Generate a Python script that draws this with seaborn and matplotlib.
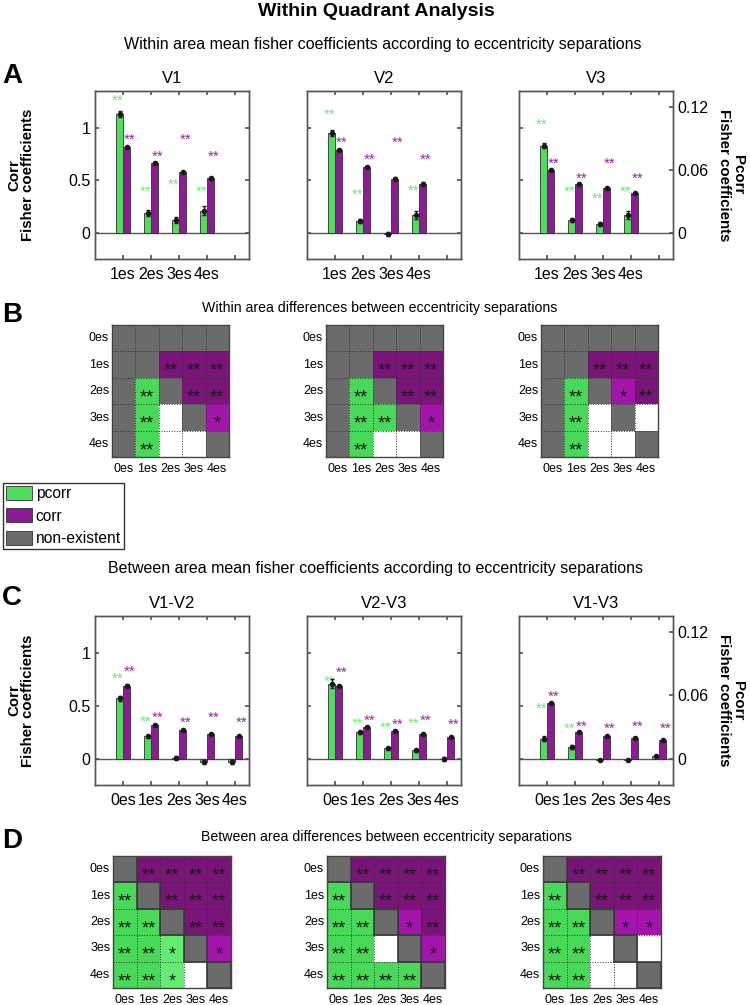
import numpy as np
import pandas as pd
import matplotlib
matplotlib.use('Agg')
import matplotlib.pyplot as plt
from matplotlib.colors import ListedColormap
from matplotlib.patches import Patch, Rectangle
from matplotlib.transforms import ScaledTranslation
import seaborn as sns

sns.set_theme(style='white')
plt.rcParams['font.family'] = ['Liberation Sans', 'DejaVu Sans']
plt.rcParams.update({'text.color': 'black', 'axes.labelcolor': 'black',
                     'xtick.labelcolor': 'black', 'ytick.labelcolor': 'black'})

# ---------------- data ----------------
SEP_A = ['1es', '2es', '3es', '4es']
SEP_C = ['0es', '1es', '2es', '3es', '4es']
AREAS_A = ['V1', 'V2', 'V3']
AREAS_C = ['V1-V2', 'V2-V3', 'V1-V3']

# within area: corr on left axis, pcorr on right axis
CORR_A = [[0.82, 0.66, 0.58, 0.52],
          [0.79, 0.625, 0.515, 0.465],
          [0.595, 0.46, 0.425, 0.38]]
CORR_A_ERR = [[0.01, 0.01, 0.012, 0.015],
              [0.01, 0.012, 0.012, 0.02],
              [0.008, 0.01, 0.01, 0.012]]
PCORR_A = [[0.113, 0.019, 0.012, 0.021],
           [0.095, 0.011, -0.0015, 0.017],
           [0.083, 0.012, 0.008, 0.017]]
PCORR_A_ERR = [[0.003, 0.003, 0.003, 0.0045],
               [0.003, 0.002, 0.002, 0.004],
               [0.002, 0.002, 0.002, 0.004]]
SIG_CORR_A = [['**', '**', '**', '**'], ['**', '**', '**', '**'], ['**', '**', '**', '**']]
SIG_PCORR_A = [['**', '**', '**', '**'], ['**', '**', '', '**'], ['**', '**', '**', '**']]

# between area
CORR_C = [[0.69, 0.32, 0.275, 0.237, 0.212],
          [0.687, 0.30, 0.262, 0.234, 0.203],
          [0.528, 0.25, 0.216, 0.194, 0.178]]
CORR_C_ERR = [[0.012, 0.01, 0.008, 0.008, 0.008],
              [0.01, 0.008, 0.008, 0.008, 0.008],
              [0.01, 0.008, 0.008, 0.008, 0.008]]
PCORR_C = [[0.057, 0.021, 0.0005, -0.003, -0.003],
           [0.071, 0.025, 0.0097, 0.008, -0.0005],
           [0.019, 0.011, -0.001, -0.001, 0.002]]
PCORR_C_ERR = [[0.002, 0.0015, 0.0015, 0.002, 0.002],
               [0.004, 0.0015, 0.0015, 0.0015, 0.002],
               [0.0025, 0.0015, 0.001, 0.001, 0.0015]]
SIG_CORR_C = [['**'] * 5, ['**'] * 5, ['**'] * 5]
SIG_PCORR_C = [['**', '**', '', '', ''], ['**', '**', '**', '**', ''], ['**', '**', '', '', '']]

# significance matrices: G/P = ** (pcorr/corr), g/p = *, N = non-existent, W = n.s.
MAT_B = [["NNNNN", "NNPPP", "NGNPP", "NGWNp", "NGWWN"],
         ["NNNNN", "NNPPP", "NGNPP", "NGGNp", "NGWWN"],
         ["NNNNN", "NNPPP", "NGNpP", "NGWNW", "NGWWN"]]
MAT_D = [["NPPPP", "GNPPP", "GGNPP", "GGgNp", "GGgWN"],
         ["NPPPP", "GNPPP", "GGNpP", "GGWNp", "GGGGN"],
         ["NPPPP", "GNPPP", "GGNpp", "GGWNW", "GGWWN"]]

# star label heights (left axis units)
STAR_CORR_A = [[0.93, 0.77, 0.93, 0.77], [0.905, 0.74, 0.905, 0.74], [0.706, 0.564, 0.706, 0.564]]
STAR_PCORR_A = [[1.30, 0.44, 0.50, 0.44], [1.17, 0.41, None, 0.45], [1.08, 0.44, 0.37, 0.44]]
STAR_CORR_C = [[0.87, 0.43, 0.385, 0.43, 0.385], [0.86, 0.41, 0.366, 0.41, 0.366],
               [0.63, 0.353, 0.325, 0.353, 0.325]]
STAR_PCORR_C = [[0.80, 0.40, None, None, None], [0.77, 0.38, 0.335, 0.38, None],
                [0.52, 0.325, None, None, None]]

# ---------------- style ----------------
GREEN = '#4FDD5C'
PURPLE = '#8E1A96'
GRAY = '#6B6B6B'
PAL = {'pcorr': GREEN, 'corr': PURPLE}
STAR_GREEN = '#6FE97B'
STAR_PURPLE = '#9E22A8'
HEAT_COLORS = ['#FFFFFF', GRAY, '#62EC70', '#47D957', '#A214AA', '#7B1479']
CODE = {'W': 0, 'N': 1, 'g': 2, 'G': 3, 'p': 4, 'P': 5}
STARS = {'W': '', 'N': '', 'g': '*', 'G': '**', 'p': '*', 'P': '**'}
FRAME = '#555555'
STAR_FS = 10.8
HEAT_FS = 13

W, H = 750, 1005
fig = plt.figure(figsize=(W / 100, H / 100), dpi=100)


def rect(l, t, r, b):
    return [l / W, 1 - b / H, (r - l) / W, (b - t) / H]


def ftext(x, y, s, **kw):
    fig.text(x / W, 1 - y / H, s, ha='center', va='center', **kw)


def stars(ax, x, y, s, color):
    # put the visual centre of the asterisk glyphs at y
    ax.annotate(s, (x, y), xytext=(0, -0.6 * STAR_FS), textcoords='offset points',
                color=color, fontsize=STAR_FS, ha='center', va='baseline')


def bar_panel(ax, i, seps, corr, cerr, pcorr, perr, sc, sp, yc, yp, title):
    n = len(seps)
    ax2 = ax.twinx()
    dc = pd.DataFrame({'sep': seps, 'val': corr, 'kind': 'corr'})
    dp = pd.DataFrame({'sep': seps, 'val': pcorr, 'kind': 'pcorr'})
    kw = dict(x='sep', y='val', hue='kind', hue_order=['pcorr', 'corr'], order=seps,
              palette=PAL, width=0.5, dodge=True, saturation=1, edgecolor='#303030',
              linewidth=0.6, legend=False)
    sns.barplot(data=dc, ax=ax, **kw)
    sns.barplot(data=dp, ax=ax2, **kw)
    xs = np.arange(n)
    ax.errorbar(xs + 0.125, corr, yerr=cerr, fmt='o', color='k', ms=3, capsize=1.5, elinewidth=1)
    ax2.errorbar(xs - 0.125, pcorr, yerr=perr, fmt='o', color='k', ms=3, capsize=1.5, elinewidth=1)
    for k in range(n):
        if sc[k] and yc[k] is not None:
            stars(ax, xs[k] + 0.24, yc[k], sc[k], STAR_PURPLE)
        if sp[k] and yp[k] is not None:
            stars(ax, xs[k] - 0.2, yp[k], sp[k], STAR_GREEN)
    ax.axhline(0, color=FRAME, lw=1, zorder=0.5)
    ax.set_ylim(-0.25, 1.35)
    ax2.set_ylim(-0.025, 0.135)
    ax.set_xlim(-1, 4.5)
    ax.set_xticks(range(5))
    labels = list(seps) + [''] * (5 - n)
    ax.set_xticklabels(labels)
    ax.set_yticks([0, 0.5, 1])
    ax.set_yticklabels(['0', '0.5', '1'])
    ax2.set_yticks([0, 0.06, 0.12])
    ax2.set_yticklabels(['0', '0.06', '0.12'])
    ax.set_xlabel('')
    ax.set_ylabel('')
    ax2.set_ylabel('')
    ax.set_title(title, fontsize=12, pad=6)
    ax.tick_params(axis='x', direction='in', length=3, top=True, bottom=True,
                   labelsize=11.5, color=FRAME, pad=6)
    ax.tick_params(axis='y', direction='in', length=3, left=True, right=(i != 2),
                   labelleft=(i == 0), labelsize=11.5, color=FRAME)
    ax2.tick_params(axis='y', direction='in', length=3 if i == 2 else 0, right=(i == 2),
                    labelright=(i == 2), labelsize=11.5, color=FRAME)
    for a in (ax, ax2):
        for s in a.spines.values():
            s.set_color(FRAME)
            s.set_linewidth(1)
    if i == 0:
        ax.set_ylabel('Corr\nFisher coefficients', fontsize=10.8, fontweight='bold', linespacing=1.0)
        ax.yaxis.set_label_coords(-0.39, 0.5)
    if i == 2:
        ax2.set_ylabel('Pcorr\nFisher coefficients', fontsize=10.8, fontweight='bold',
                       rotation=270, va='center', linespacing=1.0)
        ax2.yaxis.set_label_coords(1.377, 0.5)


def heat_panel(ax, rows, frame_missing):
    codes = np.array([[CODE[c] for c in r] for r in rows])
    annot = np.array([[STARS[c] for c in r] for r in rows])
    sns.heatmap(codes, ax=ax, cmap=ListedColormap(HEAT_COLORS), vmin=-0.5, vmax=5.5,
                cbar=False, annot=annot, fmt='', xticklabels=SEP_C, yticklabels=SEP_C,
                annot_kws=dict(color='k', fontsize=HEAT_FS))
    shift = ScaledTranslation(0, -0.62 * HEAT_FS / 72, fig.dpi_scale_trans)
    for t in ax.texts:
        t.set_va('baseline')
        t.set_transform(t.get_transform() + shift)
    for k in range(1, 5):
        ax.axhline(k, color='#303030', lw=0.7, ls=':')
        ax.axvline(k, color='#303030', lw=0.7, ls=':')
    if frame_missing:
        for r in range(5):
            for c in range(5):
                if rows[r][c] == 'N':
                    ax.add_patch(Rectangle((c, r), 1, 1, fill=False, ec='#3a3a3a', lw=1.2))
    for s in ax.spines.values():
        s.set_visible(True)
        s.set_color('#444444')
        s.set_linewidth(1)
    ax.tick_params(axis='y', length=0, labelsize=9, pad=2)
    ax.tick_params(axis='x', length=0, labelsize=9, pad=4)
    ax.set_yticklabels(SEP_C, rotation=0)
    ax.set_xticklabels(SEP_C, rotation=0)


# ---------------- layout ----------------
ftext(376, 12, 'Within Quadrant Analysis', fontsize=14, fontweight='bold')
ftext(383, 45, 'Within area mean fisher coefficients according to eccentricity separations',
      fontsize=11.5)
ftext(380, 308, 'Within area differences between eccentricity separations', fontsize=10.2)
ftext(375, 568, 'Between area mean fisher coefficients according to eccentricity separations',
      fontsize=11.5)
ftext(386, 837, 'Between area differences between eccentricity separations', fontsize=10.2)
for letter, y in [('A', 76), ('B', 315), ('C', 598), ('D', 841)]:
    ftext(12, y, letter, fontsize=20, fontweight='bold')

lefts = [95, 307, 519]
for i in range(3):
    ax = fig.add_axes(rect(lefts[i], 91, lefts[i] + 154, 259))
    bar_panel(ax, i, SEP_A, CORR_A[i], CORR_A_ERR[i], PCORR_A[i], PCORR_A_ERR[i],
              SIG_CORR_A[i], SIG_PCORR_A[i], STAR_CORR_A[i], STAR_PCORR_A[i], AREAS_A[i])
    ax = fig.add_axes(rect(lefts[i], 616, lefts[i] + 154, 785))
    bar_panel(ax, i, SEP_C, CORR_C[i], CORR_C_ERR[i], PCORR_C[i], PCORR_C_ERR[i],
              SIG_CORR_C[i], SIG_PCORR_C[i], STAR_CORR_C[i], STAR_PCORR_C[i], AREAS_C[i])

hb = [112, 326, 541]
hd = [113, 327, 543]
for i in range(3):
    ax = fig.add_axes(rect(hb[i], 325, hb[i] + 117, 457.5))
    heat_panel(ax, MAT_B[i], False)
    ax = fig.add_axes(rect(hd[i], 856, hd[i] + 118, 988))
    heat_panel(ax, MAT_D[i], True)

handles = [Patch(facecolor=GREEN, edgecolor='#303030', lw=0.6),
           Patch(facecolor=PURPLE, edgecolor='#303030', lw=0.6),
           Patch(facecolor=GRAY, edgecolor='#303030', lw=0.6)]
fig.legend(handles, ['pcorr', 'corr', 'non-existent'], loc='upper left',
           bbox_to_anchor=(3 / W, 1 - 483 / H), frameon=True, fancybox=False,
           edgecolor='#333333', framealpha=1, fontsize=11.2, borderpad=0.2,
           handlelength=1.65, handleheight=1.0, handletextpad=0.25, labelspacing=0.45,
           borderaxespad=0)

fig.savefig('out.png', dpi=100)
